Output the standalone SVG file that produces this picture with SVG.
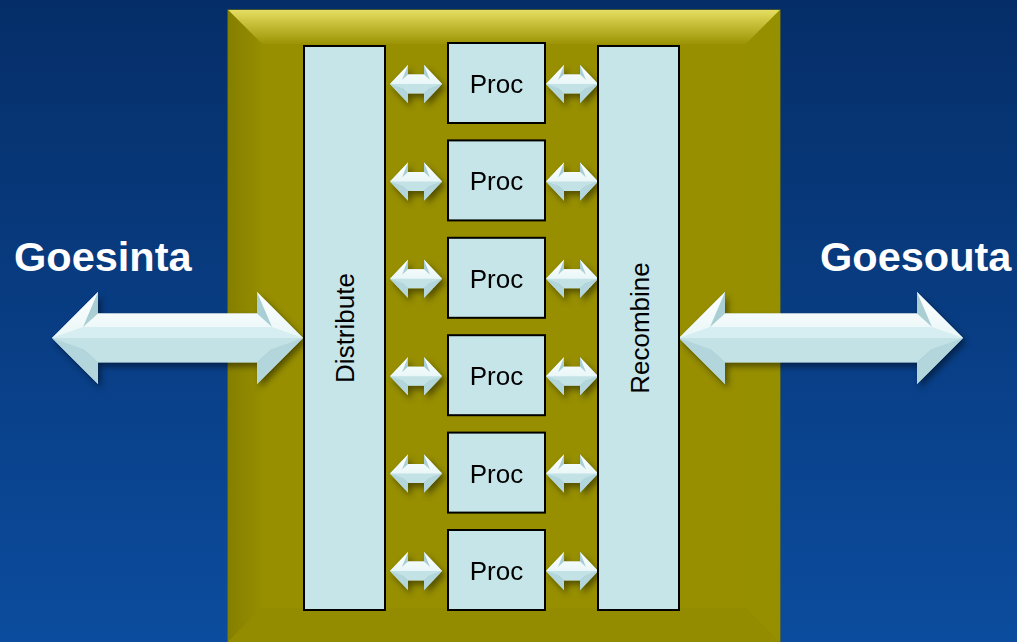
<svg xmlns="http://www.w3.org/2000/svg" width="1017" height="642" viewBox="0 0 1017 642">
  <defs>
    <linearGradient id="bg" x1="0" y1="0" x2="0" y2="1">
      <stop offset="0" stop-color="#052e68"/>
      <stop offset="1" stop-color="#0c4c9e"/>
    </linearGradient>
    <linearGradient id="bevelTop" x1="0" y1="0" x2="0" y2="1">
      <stop offset="0" stop-color="#e6de62"/>
      <stop offset="0.45" stop-color="#c4bc34"/>
      <stop offset="1" stop-color="#9c9406"/>
    </linearGradient>
    <linearGradient id="bevelLeft" x1="0" y1="0" x2="1" y2="0">
      <stop offset="0" stop-color="#857f00"/>
      <stop offset="1" stop-color="#958e00"/>
    </linearGradient>
    <linearGradient id="shine" x1="0" y1="0" x2="0" y2="1">
      <stop offset="0" stop-color="#ffffff"/>
      <stop offset="1" stop-color="#e9f6f7"/>
    </linearGradient>
    <filter id="shadow" x="-20%" y="-30%" width="140%" height="170%">
      <feDropShadow dx="3" dy="4" stdDeviation="3" flood-color="#000" flood-opacity="0.45"/>
    </filter>

    <!-- large double-headed arrow, 251 long, centred on y=0 -->
    <g id="bigArrowL">
      <path fill="#c3e2e6" d="M0,0 L46,-46 L46,-24.5 L205,-24.5 L205,-46 L251,0 L205,46 L205,24.5 L46,24.5 L46,46 Z"/>
      <path fill="url(#shine)" d="M0,0 L46,-46 L46,-24.5 L205,-24.5 L205,-46 L251,0 Z"/>
      <path fill="#d6eef1" d="M0,0 L31,-11 L220,-11 L251,0 Z"/>
      <path fill="#a9cfd5" d="M46,-46 L46,-24.5 L31,-11 Z M205,-46 L205,-24.5 L220,-11 Z"/>
      <path fill="#8fb8c0" d="M46,46 L46,24.5 L31,11 Z M205,46 L205,24.5 L220,11 Z"/>
      <path fill="#b2d6db" d="M0,0 L31,11 L46,24.5 L46,46 Z M251,0 L220,11 L205,24.5 L205,46 Z"/>
    </g>

    <!-- large double-headed arrow, 284 long, centred on y=0 -->
    <g id="bigArrowR">
      <path fill="#c3e2e6" d="M0,0 L46,-46 L46,-24.5 L238,-24.5 L238,-46 L284,0 L238,46 L238,24.5 L46,24.5 L46,46 Z"/>
      <path fill="url(#shine)" d="M0,0 L46,-46 L46,-24.5 L238,-24.5 L238,-46 L284,0 Z"/>
      <path fill="#d6eef1" d="M0,0 L31,-11 L253,-11 L284,0 Z"/>
      <path fill="#a9cfd5" d="M46,-46 L46,-24.5 L31,-11 Z M238,-46 L238,-24.5 L253,-11 Z"/>
      <path fill="#8fb8c0" d="M46,46 L46,24.5 L31,11 Z M238,46 L238,24.5 L253,11 Z"/>
      <path fill="#b2d6db" d="M0,0 L31,11 L46,24.5 L46,46 Z M284,0 L253,11 L238,24.5 L238,46 Z"/>
    </g>

    <!-- small double-headed arrow, 52 long, centred on y=0 -->
    <g id="smallArrow">
      <path fill="#c3e2e6" d="M0,0 L18,-19 L18,-9.5 L34,-9.5 L34,-19 L52,0 L34,19 L34,9.5 L18,9.5 L18,19 Z"/>
      <path fill="url(#shine)" d="M0,0 L18,-19 L18,-9.5 L34,-9.5 L34,-19 L52,0 Z"/>
      <path fill="#a9cfd5" d="M18,-19 L18,-9.5 L12,-4 Z M34,-19 L34,-9.5 L40,-4 Z"/>
      <path fill="#8fb8c0" d="M18,19 L18,9.5 L12,4 Z M34,19 L34,9.5 L40,4 Z"/>
      <path fill="#b2d6db" d="M0,0 L12,4 L18,9.5 L18,19 Z M52,0 L40,4 L34,9.5 L34,19 Z"/>
    </g>

    <style>
      .box { fill: #c5e5e8; stroke: #000; stroke-width: 2; }
      .lbl { font-family: "Liberation Sans", Arial, sans-serif; font-size: 26px; fill: #000; text-anchor: middle; }
      .title { font-family: "Liberation Sans", Arial, sans-serif; font-size: 41.5px; font-weight: bold; fill: #fff; }
    </style>
  </defs>

  <!-- background -->
  <rect x="0" y="0" width="1017" height="642" fill="url(#bg)"/>

  <!-- bevelled gold panel -->
  <g id="panel">
    <rect x="228" y="10" width="552" height="632" fill="#978f00" stroke="#7a7600" stroke-width="1"/>
    <polygon points="228,10 780,10 746,44 262,44" fill="url(#bevelTop)"/>
    <polygon points="228,10 262,44 262,608 228,642" fill="url(#bevelLeft)"/>
    <polygon points="780,10 780,642 746,608 746,44" fill="#968f00"/>
    <polygon points="228,642 262,608 746,608 780,642" fill="#938c00"/>
  </g>

  <!-- side labels -->
  <g id="goesinta"><text class="title" x="14" y="271">Goesinta</text></g>
  <g id="goesouta"><text class="title" x="820" y="271">Goesouta</text></g>

  <!-- connectors -->
  <g id="connectors" filter="url(#shadow)">
    <use href="#bigArrowL" x="52" y="338"/>
    <use href="#bigArrowR" x="679" y="338"/>
    <use href="#smallArrow" x="390" y="84"/>
    <use href="#smallArrow" x="546" y="84"/>
    <use href="#smallArrow" x="390" y="181.4"/>
    <use href="#smallArrow" x="546" y="181.4"/>
    <use href="#smallArrow" x="390" y="278.8"/>
    <use href="#smallArrow" x="546" y="278.8"/>
    <use href="#smallArrow" x="390" y="376.2"/>
    <use href="#smallArrow" x="546" y="376.2"/>
    <use href="#smallArrow" x="390" y="473.6"/>
    <use href="#smallArrow" x="546" y="473.6"/>
    <use href="#smallArrow" x="390" y="571"/>
    <use href="#smallArrow" x="546" y="571"/>
  </g>

  <!-- distribute column -->
  <g id="distribute">
    <rect class="box" x="304" y="46" width="81" height="564"/>
    <text class="lbl" transform="translate(354,328) rotate(-90)">Distribute</text>
  </g>

  <!-- recombine column -->
  <g id="recombine">
    <rect class="box" x="598" y="46" width="81" height="564"/>
    <text class="lbl" transform="translate(649,328) rotate(-90)">Recombine</text>
  </g>

  <!-- processing elements -->
  <g id="proc1"><rect class="box" x="448" y="43" width="97" height="80"/><text class="lbl" x="496.5" y="93">Proc</text></g>
  <g id="proc2"><rect class="box" x="448" y="140.4" width="97" height="80"/><text class="lbl" x="496.5" y="190.4">Proc</text></g>
  <g id="proc3"><rect class="box" x="448" y="237.8" width="97" height="80"/><text class="lbl" x="496.5" y="287.8">Proc</text></g>
  <g id="proc4"><rect class="box" x="448" y="335.2" width="97" height="80"/><text class="lbl" x="496.5" y="385.2">Proc</text></g>
  <g id="proc5"><rect class="box" x="448" y="432.6" width="97" height="80"/><text class="lbl" x="496.5" y="482.6">Proc</text></g>
  <g id="proc6"><rect class="box" x="448" y="530" width="97" height="80"/><text class="lbl" x="496.5" y="580">Proc</text></g>
</svg>
